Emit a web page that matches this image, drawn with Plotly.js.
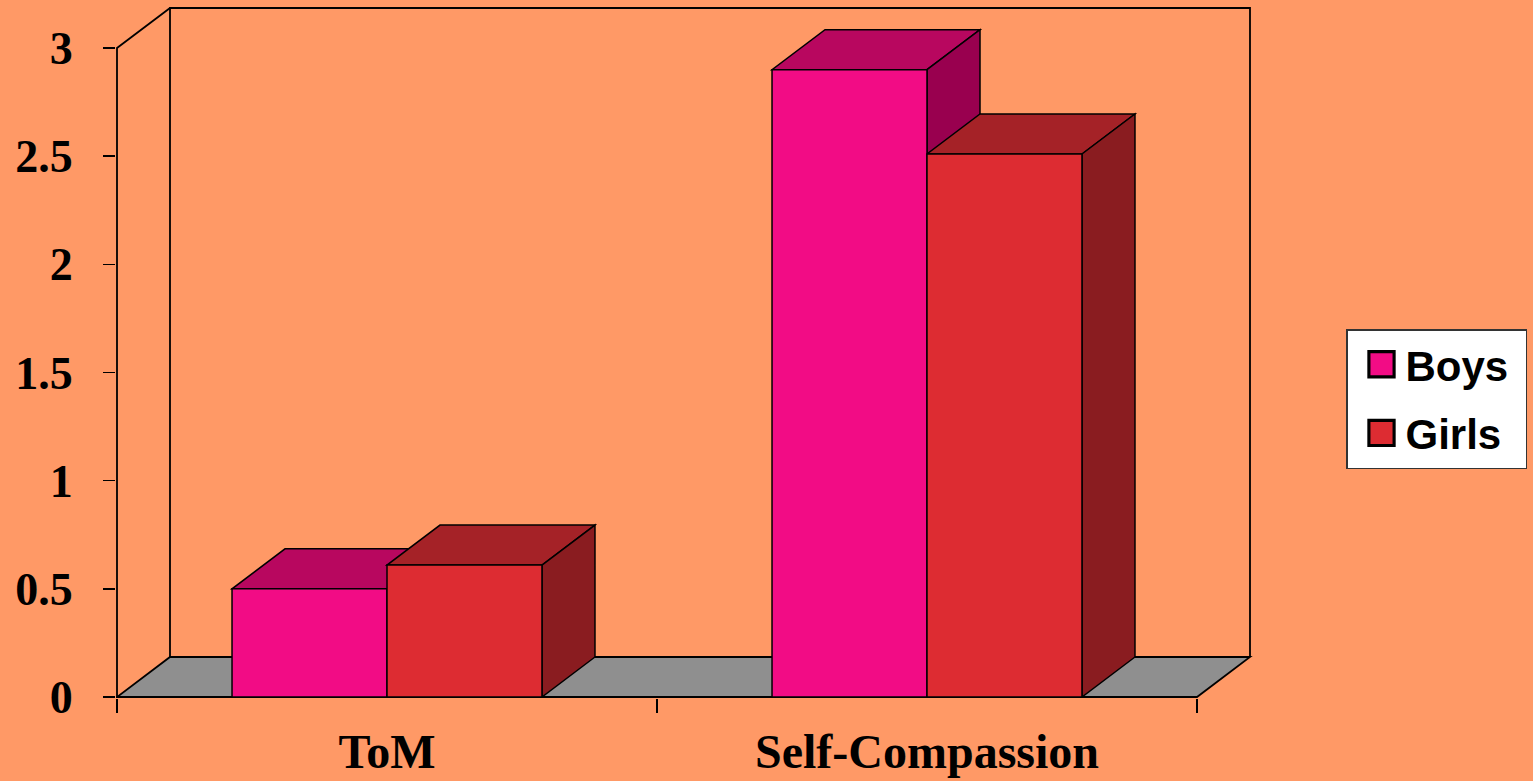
<!DOCTYPE html>
<html>
<head>
<meta charset="utf-8">
<script src="https://cdn.plot.ly/plotly-3.0.1.min.js"></script>
<style>html,body{margin:0;padding:0;background:#FF9966;}#chart{width:1533px;height:781px;}</style>
</head>
<body>
<div id="chart"></div>
<script>
// ---- data ----
const categories = ['ToM', 'Self-Compassion'];
const seriesNames = ['Boys', 'Girls'];
const boys = [0.5, 2.9];
const girls = [0.61, 2.51];
const yTickVals = [0, 0.5, 1, 1.5, 2, 2.5, 3];
const yTickText = ['0', '0.5', '1', '1.5', '2', '2.5', '3'];

// ---- styles ----
const frontColors = ['#F20C85', '#DD2C32'];
const topColors = ['#B8075F', '#A52227'];
const sideColors = ['#99004F', '#8A1C20'];
const bg = '#FF9966';
const floorColor = '#8F8F8F';

// ---- geometry (pixel layout -> axis ranges) ----
const pxPerX = 540, pxPerY = 216.33;
const plotL = 116, plotR = 1256, plotT = 4, plotB = 698;
const x0px = 117, y0px = 697;           // pixel of x=-0.5 and y=0
const xMin = -0.5 - (x0px - plotL) / pxPerX;
const xMax = -0.5 + (plotR - x0px) / pxPerX;
const yMin = -(plotB - y0px) / pxPerY;
const yMax = (y0px - plotT) / pxPerY;
const dx = 53 / pxPerX, dy = 40 / pxPerY; // depth offset in data units
const bargap = 0.426;
const groupW = 1 - bargap, barW = groupW / 2;
const xs = categories.map((c, i) => i);
const catLo = -0.5, catHi = categories.length - 0.5;
const yTop = yTickVals[yTickVals.length - 1];
const lineW = 1.8;

function P(pts, close) {
  return pts.map((p, i) => (i ? 'L' : 'M') + p[0] + ',' + p[1]).join(' ') + (close ? ' Z' : '');
}
const shapes = [];
// floor
shapes.push({type: 'path', xref: 'x', yref: 'y', layer: 'below',
  path: P([[catLo, 0], [catHi, 0], [catHi + dx, dy], [catLo + dx, dy]], true),
  fillcolor: floorColor, line: {color: '#000', width: lineW}});
// back wall + side wall + front axis line
shapes.push({type: 'path', xref: 'x', yref: 'y', layer: 'below',
  path: P([[catLo + dx, dy], [catLo + dx, yTop + dy], [catHi + dx, yTop + dy], [catHi + dx, dy]], false),
  line: {color: '#000', width: lineW}});
shapes.push({type: 'path', xref: 'x', yref: 'y', layer: 'below',
  path: P([[catLo, 0], [catLo, yTop], [catLo + dx, yTop + dy]], false),
  line: {color: '#000', width: lineW}});
// bar top and side faces (painter's order)
const series = [boys, girls];
xs.forEach((xc, i) => {
  series.forEach((vals, s) => {
    const v = vals[i];
    const a = xc - groupW / 2 + s * barW, b = a + barW;
    shapes.push({type: 'path', xref: 'x', yref: 'y', layer: 'below',
      path: P([[a, v], [b, v], [b + dx, v + dy], [a + dx, v + dy]], true),
      fillcolor: topColors[s], line: {color: '#000', width: 1.5}});
    shapes.push({type: 'path', xref: 'x', yref: 'y', layer: 'below',
      path: P([[b, 0], [b, v], [b + dx, v + dy], [b + dx, dy]], true),
      fillcolor: sideColors[s], line: {color: '#000', width: 1.5}});
  });
});

const traces = series.map((vals, s) => ({
  type: 'bar', name: seriesNames[s] + '\u00a0', x: xs, y: vals,
  legendgroup: seriesNames[s],
  marker: {color: frontColors[s], line: {color: '#000', width: 1.5}},
  hoverinfo: 'skip'
}));

const W = 1533, H = 781;
const layout = {
  width: W, height: H,
  paper_bgcolor: bg, plot_bgcolor: 'rgba(0,0,0,0)',
  margin: {l: plotL, r: W - plotR, t: plotT, b: H - plotB, pad: 0},
  barmode: 'group', bargap: bargap, bargroupgap: 0,
  showlegend: true,
  legend: {
    x: (1346 - plotL) / (plotR - plotL), y: (plotB - 329) / (plotB - plotT),
    xanchor: 'left', yanchor: 'top',
    bgcolor: '#FFFFFF', bordercolor: '#333333', borderwidth: 1.5,
    font: {family: 'Liberation Sans, Arial, sans-serif', size: 42, color: '#000', weight: 'bold'},
    tracegroupgap: 11, itemwidth: 48, traceorder: 'grouped'
  },
  xaxis: {
    range: [xMin, xMax], showgrid: false, zeroline: false, showline: false,
    tickmode: 'array', tickvals: xs, ticktext: categories, ticks: '',
    minor: {tickmode: 'array', tickvals: [catLo, 0.5, catHi], ticks: 'outside', ticklen: 14, tickwidth: 1.5, tickcolor: '#000', showgrid: false},
    tickfont: {family: 'Liberation Serif, Times New Roman, serif', size: 48, color: '#000', weight: 'bold'},
    ticklabelstandoff: 21, fixedrange: true
  },
  yaxis: {
    range: [yMin, yMax], showgrid: false, zeroline: false, showline: false,
    tickmode: 'array', tickvals: yTickVals, ticktext: yTickText,
    ticks: 'outside', ticklen: 12, tickwidth: 1.5, tickcolor: '#000',
    tickfont: {family: 'Liberation Serif, Times New Roman, serif', size: 46, color: '#000', weight: 'bold'},
    ticklabelstandoff: 21, fixedrange: true
  },
  shapes: shapes
};

Plotly.newPlot('chart', traces, layout, {staticPlot: true, displayModeBar: false}).then(function () {
  document.querySelectorAll('.legend .legendpoints path').forEach(function (p) {
    const t = p.getAttribute('transform') || '';
    p.setAttribute('transform', t + ' translate(5,0) scale(2.1)');
  });
});
</script>
</body>
</html>
